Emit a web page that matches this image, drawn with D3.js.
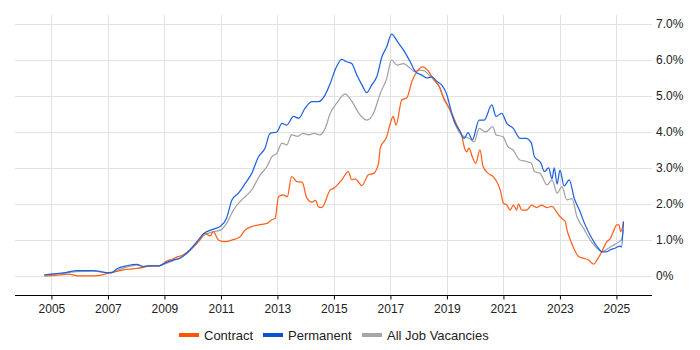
<!DOCTYPE html>
<html>
<head>
<meta charset="utf-8">
<script src="https://cdn.jsdelivr.net/npm/d3@7"></script>
<style>
  body { margin: 0; background: #fff; }
  text { font-family: "Liberation Sans", Arial, sans-serif; fill: #222; }
</style>
</head>
<body>
<script>
// tick labels
const yearTicks = [2005, 2007, 2009, 2011, 2013, 2015, 2017, 2019, 2021, 2023, 2025];
const pctTicks = [0, 1, 2, 3, 4, 5, 6, 7];

// Contract
const contractYears = [2004.75, 2005.0, 2005.3, 2005.6, 2006.0, 2006.5, 2007.0, 2007.55, 2008.03, 2008.25,
  2008.5, 2008.8, 2009.1, 2009.3, 2009.45, 2009.6, 2010.03, 2010.26, 2010.44, 2010.62,
  2010.73, 2010.91, 2011.15, 2011.4, 2011.68, 2011.86, 2012.09, 2012.33, 2012.63, 2012.8,
  2012.92, 2013.04, 2013.2, 2013.35, 2013.5, 2013.69, 2013.88, 2014.04, 2014.22, 2014.35,
  2014.45, 2014.57, 2014.87, 2015.0, 2015.28, 2015.51, 2015.63, 2015.75, 2015.99, 2016.22,
  2016.4, 2016.58, 2016.64, 2016.87, 2017.0, 2017.1, 2017.2, 2017.4, 2017.58, 2017.76,
  2017.94, 2018.15, 2018.35, 2018.55, 2018.73, 2018.87, 2019.05, 2019.22, 2019.4, 2019.52,
  2019.61, 2019.7, 2019.78, 2019.9, 2020.02, 2020.17, 2020.28, 2020.46, 2020.64, 2020.82,
  2020.9, 2021.0, 2021.12, 2021.24, 2021.35, 2021.47, 2021.53, 2021.65, 2021.82, 2022.0,
  2022.17, 2022.35, 2022.53, 2022.72, 2022.84, 2022.96, 2023.07, 2023.19, 2023.25, 2023.37,
  2023.49, 2023.66, 2023.84, 2024.02, 2024.14, 2024.2, 2024.31, 2024.42, 2024.54, 2024.66,
  2024.77, 2024.89, 2025.01, 2025.09, 2025.15, 2025.2, 2025.25];
const contractValues = [0.00, 0.01, 0.03, 0.05, 0.00, 0.00, 0.07, 0.17, 0.21, 0.24,
  0.28, 0.28, 0.42, 0.47, 0.53, 0.56, 0.81, 1.00, 1.18, 1.11,
  1.23, 1.00, 0.95, 1.00, 1.09, 1.28, 1.37, 1.42, 1.46, 1.56,
  1.60, 2.20, 2.25, 2.20, 2.76, 2.62, 2.60, 2.16, 2.05, 2.10,
  1.92, 1.90, 2.39, 2.44, 2.67, 2.90, 2.67, 2.70, 2.51, 2.81,
  2.85, 3.13, 3.55, 3.87, 4.25, 4.43, 4.19, 4.89, 4.95, 5.40,
  5.68, 5.81, 5.68, 5.44, 5.26, 4.98, 4.70, 4.43, 4.10, 3.92,
  3.59, 3.45, 3.55, 3.31, 3.13, 3.50, 3.04, 2.85, 2.76, 2.53,
  2.35, 2.02, 1.97, 1.83, 1.97, 1.83, 2.00, 1.83, 1.83, 1.97,
  1.90, 1.97, 1.90, 1.93, 1.83, 1.69, 1.60, 1.51, 1.28, 1.00,
  0.77, 0.54, 0.49, 0.44, 0.35, 0.33, 0.44, 0.58, 0.77, 0.95,
  1.02, 1.23, 1.42, 1.42, 1.23, 1.30, 1.51];

// Permanent
const permYears = [2004.75, 2005.0, 2005.5, 2005.9, 2006.5, 2006.75, 2007.0, 2007.15, 2007.3, 2007.7,
  2008.03, 2008.25, 2008.5, 2008.8, 2009.0, 2009.3, 2009.55, 2009.9, 2010.15, 2010.38,
  2010.73, 2010.97, 2011.2, 2011.39, 2011.62, 2011.86, 2012.09, 2012.33, 2012.56, 2012.74,
  2012.98, 2013.16, 2013.33, 2013.57, 2013.75, 2013.98, 2014.22, 2014.45, 2014.69, 2014.87,
  2015.04, 2015.28, 2015.45, 2015.63, 2015.81, 2015.99, 2016.16, 2016.34, 2016.52, 2016.7,
  2016.87, 2017.04, 2017.25, 2017.46, 2017.7, 2017.88, 2018.11, 2018.3, 2018.47, 2018.65,
  2018.82, 2019.0, 2019.11, 2019.26, 2019.43, 2019.61, 2019.75, 2019.9, 2020.14, 2020.32,
  2020.59, 2020.74, 2020.94, 2021.12, 2021.35, 2021.59, 2021.8, 2021.99, 2022.1, 2022.22,
  2022.32, 2022.45, 2022.6, 2022.72, 2022.8, 2022.9, 2023.0, 2023.15, 2023.33, 2023.51,
  2023.69, 2023.87, 2024.1, 2024.36, 2024.48, 2024.65, 2024.77, 2024.95, 2025.13, 2025.18,
  2025.25];
const permValues = [0.03, 0.05, 0.09, 0.15, 0.15, 0.12, 0.09, 0.09, 0.19, 0.29,
  0.32, 0.26, 0.28, 0.28, 0.35, 0.44, 0.49, 0.72, 0.95, 1.17,
  1.30, 1.37, 1.60, 2.11, 2.30, 2.57, 2.85, 3.31, 3.55, 3.96,
  4.00, 4.24, 4.19, 4.43, 4.38, 4.66, 4.84, 4.84, 5.03, 5.35,
  5.72, 6.02, 5.95, 5.90, 5.58, 5.31, 5.09, 5.31, 5.54, 6.09,
  6.37, 6.72, 6.51, 6.28, 5.95, 5.68, 5.58, 5.50, 5.53, 5.40,
  5.30, 5.03, 4.70, 4.29, 4.06, 3.82, 3.98, 3.78, 4.33, 4.33,
  4.75, 4.43, 4.52, 4.24, 4.10, 3.82, 3.82, 3.69, 3.31, 3.22,
  3.15, 2.90, 3.00, 2.70, 3.00, 2.55, 2.94, 2.50, 2.67, 2.15,
  1.83, 1.46, 1.09, 0.77, 0.67, 0.67, 0.72, 0.77, 0.83, 0.80,
  1.51];

// All Job Vacancies
const allYears = [2004.75, 2005.0, 2005.5, 2005.9, 2006.5, 2006.75, 2007.0, 2007.3, 2007.7, 2008.03,
  2008.25, 2008.5, 2008.8, 2009.0, 2009.3, 2009.55, 2009.9, 2010.15, 2010.38, 2010.73,
  2011.0, 2011.2, 2011.44, 2011.8, 2012.09, 2012.39, 2012.63, 2012.8, 2012.98, 2013.16,
  2013.33, 2013.5, 2013.72, 2013.9, 2014.1, 2014.3, 2014.5, 2014.69, 2014.87, 2015.1,
  2015.4, 2015.6, 2015.93, 2016.16, 2016.4, 2016.64, 2016.87, 2017.04, 2017.23, 2017.46,
  2017.7, 2017.85, 2018.02, 2018.2, 2018.37, 2018.55, 2018.73, 2018.9, 2019.08, 2019.26,
  2019.43, 2019.61, 2019.79, 2019.97, 2020.14, 2020.38, 2020.62, 2020.74, 2020.98, 2021.16,
  2021.34, 2021.58, 2021.82, 2021.99, 2022.1, 2022.3, 2022.54, 2022.72, 2022.9, 2023.07,
  2023.25, 2023.43, 2023.6, 2023.84, 2024.07, 2024.31, 2024.49, 2024.66, 2024.84, 2025.02,
  2025.17, 2025.25];
const allValues = [0.03, 0.04, 0.08, 0.12, 0.13, 0.11, 0.09, 0.15, 0.25, 0.30,
  0.26, 0.28, 0.28, 0.33, 0.42, 0.50, 0.70, 0.92, 1.12, 1.23,
  1.28, 1.46, 1.83, 2.16, 2.39, 2.81, 3.04, 3.31, 3.41, 3.69,
  3.64, 3.92, 3.88, 3.96, 3.92, 3.96, 3.92, 4.10, 4.52, 4.80,
  5.06, 4.89, 4.47, 4.33, 4.52, 5.07, 5.49, 6.00, 5.86, 5.90,
  5.77, 5.68, 5.72, 5.70, 5.58, 5.44, 5.26, 4.89, 4.66, 4.29,
  4.00, 3.87, 3.82, 3.73, 4.10, 4.00, 4.15, 3.92, 3.87, 3.59,
  3.50, 3.22, 3.18, 3.13, 2.90, 2.85, 2.53, 2.67, 2.30, 2.48,
  2.11, 2.15, 1.65, 1.32, 1.00, 0.77, 0.67, 0.74, 0.83, 0.91,
  1.00, 1.28];

const series = [
  {name: 'All Job Vacancies', years: allYears, values: allValues, color: '#a3a3a3', key: '#a6a6a6'},
  {name: 'Contract', years: contractYears, values: contractValues, color: '#ff5f1a', key: '#ff5500'},
  {name: 'Permanent', years: permYears, values: permValues, color: '#1f62e0', key: '#0b4fd6'}
];
const legendOrder = ['Contract', 'Permanent', 'All Job Vacancies'];

const width = 700, height = 350;
const plot = {left: 15, right: 652, top: 15, bottom: 295};

const svg = d3.select('body').append('svg')
  .attr('width', width)
  .attr('height', height);

const x = d3.scaleLinear().domain([2003.71, 2026.26]).range([plot.left, plot.right]);
const y = d3.scaleLinear().domain([-0.53, 7.25]).range([plot.bottom, plot.top]);

// grid
svg.append('g')
  .selectAll('line')
  .data(pctTicks)
  .enter().append('line')
  .attr('x1', plot.left).attr('x2', plot.right)
  .attr('y1', d => Math.round(y(d)) + 0.5).attr('y2', d => Math.round(y(d)) + 0.5)
  .attr('stroke', '#e2e2e2');

svg.append('g')
  .selectAll('line')
  .data(yearTicks)
  .enter().append('line')
  .attr('x1', d => Math.round(x(d)) + 0.5).attr('x2', d => Math.round(x(d)) + 0.5)
  .attr('y1', plot.top).attr('y2', plot.bottom)
  .attr('stroke', '#e2e2e2');

// y labels on the right
svg.append('g')
  .selectAll('text')
  .data(pctTicks)
  .enter().append('text')
  .attr('x', 656)
  .attr('y', d => y(d) + 4)
  .style('font-size', '12px')
  .text(d => d === 0 ? '0%' : d.toFixed(1) + '%');

// x axis
const xAxis = svg.append('g')
  .attr('transform', 'translate(0,' + (plot.bottom + 0.5) + ')')
  .call(d3.axisBottom(x).tickValues(yearTicks).tickSize(4).tickPadding(5).tickFormat(d => d));
xAxis.select('.domain').attr('d', 'M' + plot.left + ',0H' + plot.right).attr('stroke', '#000');
xAxis.selectAll('.tick line').attr('stroke', '#000');
xAxis.selectAll('.tick text')
  .style('font-size', '12px')
  .style('font-family', '"Liberation Sans", Arial, sans-serif')
  .attr('fill', '#222');

// lines
const line = d3.line()
  .x(d => x(d[0]))
  .y(d => y(d[1]))
  .curve(d3.curveMonotoneX);

series.forEach(s => {
  const pts = s.years.map((yr, i) => [yr, s.values[i]]);
  svg.append('path')
    .datum(pts)
    .attr('fill', 'none')
    .attr('stroke', s.color)
    .attr('stroke-width', 1.25)
    .attr('stroke-linejoin', 'round')
    .attr('d', line);
});

// legend
const legendX = [179, 263, 362];
const legend = svg.append('g')
  .selectAll('g')
  .data(legendOrder)
  .enter().append('g')
  .attr('transform', (d, i) => 'translate(' + legendX[i] + ',335)');

legend.append('rect')
  .attr('x', 0).attr('y', -2)
  .attr('width', 20).attr('height', 4)
  .attr('fill', d => series.find(s => s.name === d).key);

legend.append('text')
  .attr('x', 25).attr('y', 4.5)
  .style('font-size', '13px')
  .text(d => d);
</script>
</body>
</html>
